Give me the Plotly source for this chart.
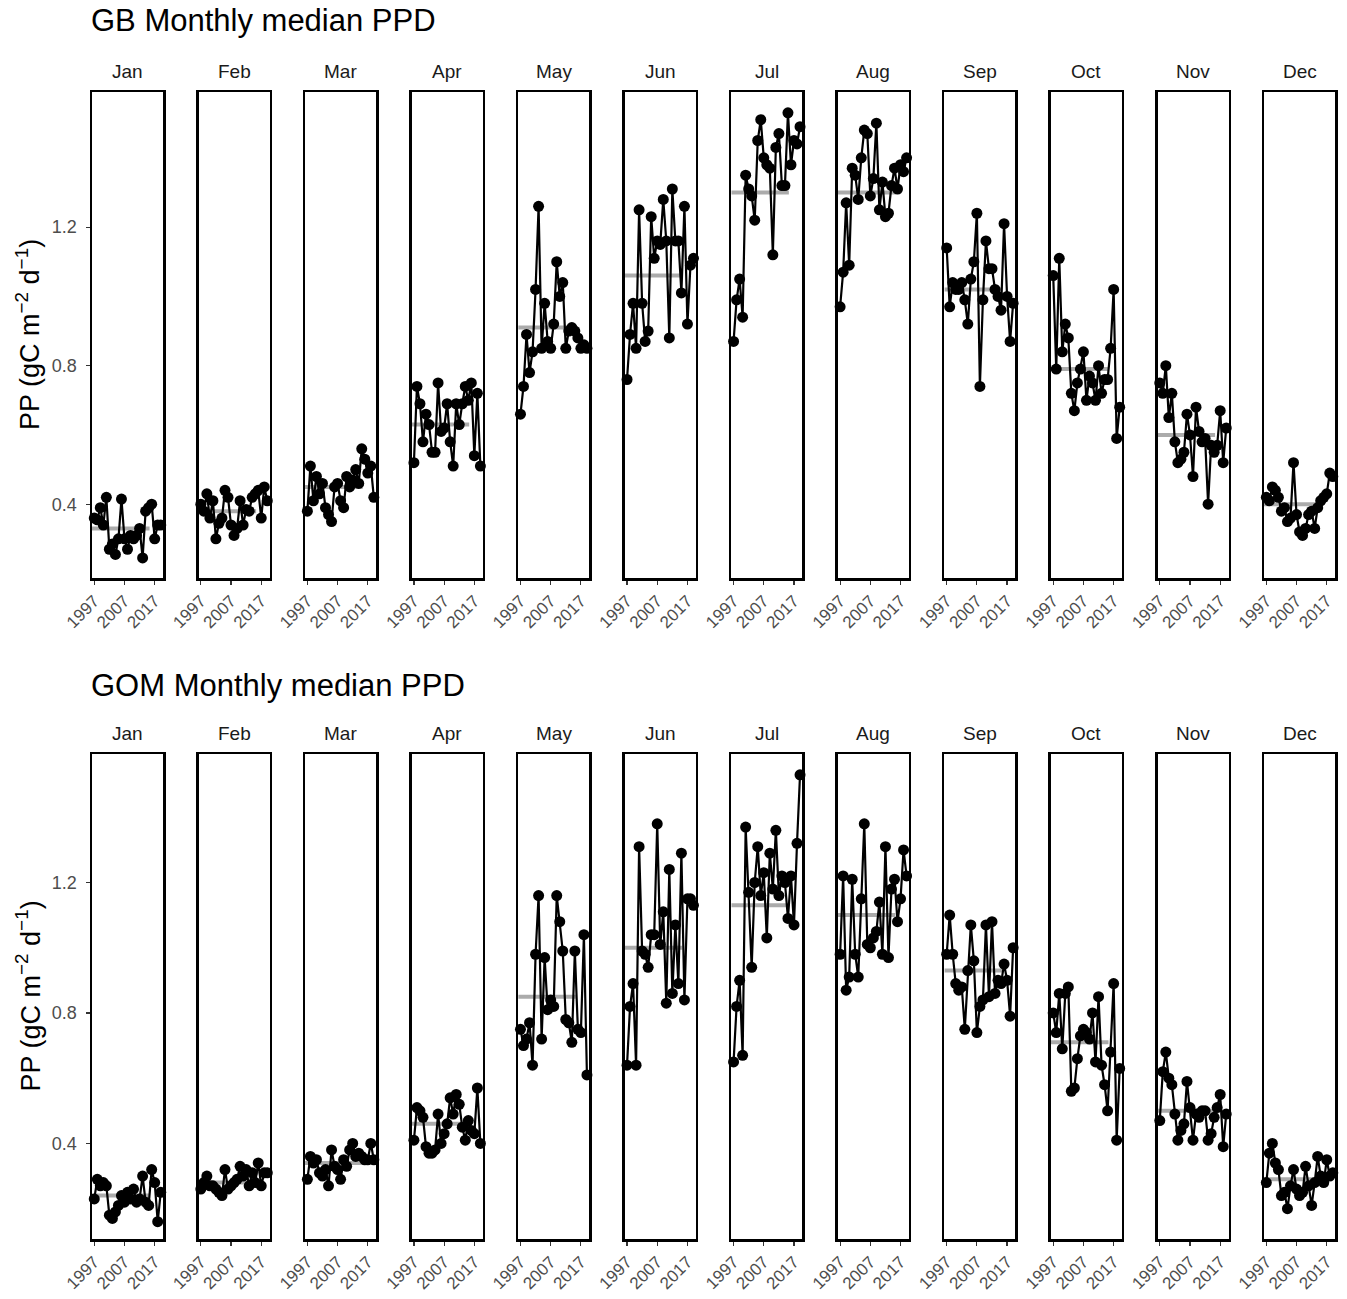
import plotly.graph_objects as go

# ---------------- data ----------------
years = list(range(1997, 2020))
months = ["Jan", "Feb", "Mar", "Apr", "May", "Jun", "Jul", "Aug", "Sep", "Oct", "Nov", "Dec"]
x_ticks = [1997, 2007, 2017]
y_ticks = [0.4, 0.8, 1.2]
y_tick_labels = ["0.4", "0.8", "1.2"]

# GB (Georges Bank) monthly median PPD
gb_jan = [0.36, 0.355, 0.39, 0.34, 0.42, 0.27, 0.285, 0.255, 0.30, 0.415, 0.30, 0.27, 0.31, 0.30, 0.31, 0.33, 0.245, 0.38, 0.39, 0.40, 0.30, 0.34, 0.34]
gb_feb = [0.40, 0.38, 0.43, 0.36, 0.41, 0.30, 0.345, 0.36, 0.44, 0.42, 0.34, 0.31, 0.33, 0.41, 0.34, 0.385, 0.38, 0.42, 0.43, 0.44, 0.36, 0.45, 0.41]
gb_mar = [0.38, 0.51, 0.41, 0.48, 0.43, 0.46, 0.39, 0.37, 0.35, 0.45, 0.46, 0.41, 0.39, 0.48, 0.45, 0.47, 0.50, 0.46, 0.56, 0.53, 0.49, 0.51, 0.42]
gb_apr = [0.52, 0.74, 0.69, 0.58, 0.66, 0.63, 0.55, 0.55, 0.75, 0.61, 0.62, 0.69, 0.58, 0.51, 0.69, 0.63, 0.69, 0.74, 0.70, 0.75, 0.54, 0.72, 0.51]
gb_may = [0.66, 0.74, 0.89, 0.78, 0.84, 1.02, 1.26, 0.85, 0.98, 0.87, 0.85, 0.92, 1.10, 1.00, 1.04, 0.85, 0.90, 0.91, 0.90, 0.88, 0.85, 0.86, 0.85]
gb_jun = [0.76, 0.89, 0.98, 0.85, 1.25, 0.98, 0.87, 0.90, 1.23, 1.11, 1.16, 1.15, 1.28, 1.16, 0.88, 1.31, 1.16, 1.16, 1.01, 1.26, 0.92, 1.09, 1.11]
gb_jul = [0.87, 0.99, 1.05, 0.94, 1.35, 1.31, 1.29, 1.22, 1.45, 1.51, 1.40, 1.38, 1.37, 1.12, 1.43, 1.47, 1.32, 1.32, 1.53, 1.38, 1.45, 1.44, 1.49]
gb_aug = [0.97, 1.07, 1.27, 1.09, 1.37, 1.35, 1.28, 1.40, 1.48, 1.47, 1.29, 1.34, 1.50, 1.25, 1.33, 1.23, 1.24, 1.32, 1.37, 1.31, 1.38, 1.36, 1.40]
gb_sep = [1.14, 0.97, 1.04, 1.02, 1.02, 1.04, 0.99, 0.92, 1.05, 1.10, 1.24, 0.74, 0.99, 1.16, 1.08, 1.08, 1.02, 1.00, 0.96, 1.21, 1.00, 0.87, 0.98]
gb_oct = [1.06, 0.79, 1.11, 0.84, 0.92, 0.88, 0.72, 0.67, 0.75, 0.79, 0.84, 0.70, 0.77, 0.75, 0.70, 0.80, 0.72, 0.76, 0.76, 0.85, 1.02, 0.59, 0.68]
gb_nov = [0.75, 0.72, 0.80, 0.65, 0.72, 0.58, 0.52, 0.53, 0.55, 0.66, 0.60, 0.48, 0.68, 0.61, 0.58, 0.59, 0.40, 0.57, 0.55, 0.57, 0.67, 0.52, 0.62]
gb_dec = [0.42, 0.41, 0.45, 0.44, 0.42, 0.38, 0.39, 0.35, 0.36, 0.52, 0.37, 0.32, 0.31, 0.33, 0.37, 0.38, 0.33, 0.39, 0.41, 0.42, 0.43, 0.49, 0.48]
gb_clim = [0.33, 0.38, 0.45, 0.63, 0.91, 1.06, 1.30, 1.30, 1.02, 0.79, 0.60, 0.40]

# GOM (Gulf of Maine) monthly median PPD
gom_jan = [0.23, 0.29, 0.27, 0.28, 0.27, 0.18, 0.17, 0.19, 0.21, 0.24, 0.22, 0.25, 0.23, 0.26, 0.22, 0.23, 0.30, 0.22, 0.21, 0.32, 0.28, 0.16, 0.25]
gom_feb = [0.26, 0.28, 0.30, 0.27, 0.27, 0.26, 0.25, 0.24, 0.32, 0.26, 0.27, 0.28, 0.29, 0.33, 0.30, 0.32, 0.27, 0.31, 0.28, 0.34, 0.27, 0.31, 0.31]
gom_mar = [0.29, 0.36, 0.34, 0.35, 0.31, 0.30, 0.32, 0.27, 0.38, 0.33, 0.32, 0.29, 0.35, 0.33, 0.38, 0.40, 0.36, 0.37, 0.36, 0.35, 0.35, 0.40, 0.35]
gom_apr = [0.41, 0.51, 0.50, 0.48, 0.39, 0.37, 0.37, 0.38, 0.49, 0.40, 0.43, 0.46, 0.54, 0.49, 0.55, 0.52, 0.45, 0.41, 0.47, 0.44, 0.43, 0.57, 0.40]
gom_may = [0.75, 0.70, 0.72, 0.77, 0.64, 0.98, 1.16, 0.72, 0.97, 0.81, 0.84, 0.82, 1.16, 1.08, 0.99, 0.78, 0.77, 0.71, 0.99, 0.75, 0.74, 1.04, 0.61]
gom_jun = [0.64, 0.82, 0.89, 0.64, 1.31, 0.99, 0.98, 0.94, 1.04, 1.04, 1.38, 1.01, 1.11, 0.83, 1.24, 0.86, 1.07, 0.89, 1.29, 0.84, 1.15, 1.15, 1.13]
gom_jul = [0.65, 0.82, 0.90, 0.67, 1.37, 1.17, 0.94, 1.20, 1.31, 1.16, 1.23, 1.03, 1.29, 1.18, 1.36, 1.16, 1.22, 1.20, 1.09, 1.22, 1.07, 1.32, 1.53]
gom_aug = [0.98, 1.22, 0.87, 0.91, 1.21, 0.98, 0.91, 1.15, 1.38, 1.01, 1.00, 1.03, 1.05, 1.14, 0.98, 1.31, 0.97, 1.18, 1.21, 1.08, 1.15, 1.30, 1.22]
gom_sep = [0.98, 1.10, 0.98, 0.89, 0.87, 0.88, 0.75, 0.93, 1.07, 0.96, 0.74, 0.82, 0.84, 1.07, 0.85, 1.08, 0.86, 0.90, 0.89, 0.95, 0.90, 0.79, 1.00]
gom_oct = [0.80, 0.74, 0.86, 0.69, 0.86, 0.88, 0.56, 0.57, 0.66, 0.73, 0.75, 0.74, 0.72, 0.80, 0.65, 0.85, 0.64, 0.58, 0.50, 0.68, 0.89, 0.41, 0.63]
gom_nov = [0.47, 0.62, 0.68, 0.60, 0.58, 0.49, 0.41, 0.44, 0.46, 0.59, 0.51, 0.41, 0.49, 0.48, 0.50, 0.50, 0.41, 0.43, 0.48, 0.51, 0.55, 0.39, 0.49]
gom_dec = [0.28, 0.37, 0.40, 0.34, 0.32, 0.24, 0.25, 0.20, 0.27, 0.32, 0.26, 0.24, 0.25, 0.33, 0.27, 0.21, 0.28, 0.36, 0.30, 0.28, 0.35, 0.30, 0.31]
gom_clim = [0.24, 0.28, 0.34, 0.46, 0.85, 1.00, 1.13, 1.10, 0.93, 0.71, 0.50, 0.29]

clim_years = [1996.25, 2015.3]

# ---------------- layout helpers ----------------
W, H = 1347, 1299
FONT = "Liberation Sans, Arial, Helvetica, sans-serif"


def px_x(px):
    return px / W


def px_y(py):
    return 1 - py / H


rows = [
    dict(title="GB Monthly median PPD", series=[gb_jan, gb_feb, gb_mar, gb_apr, gb_may, gb_jun,
                                                 gb_jul, gb_aug, gb_sep, gb_oct, gb_nov, gb_dec],
         clim=gb_clim, top=92, bottom=578, yrange=[0.187, 1.59], title_y=21, strip_y=71),
    dict(title="GOM Monthly median PPD", series=[gom_jan, gom_feb, gom_mar, gom_apr, gom_may, gom_jun,
                                                  gom_jul, gom_aug, gom_sep, gom_oct, gom_nov, gom_dec],
         clim=gom_clim, top=754, bottom=1239, yrange=[0.107, 1.594], title_y=685, strip_y=734),
]

panel_left0 = 92.0
panel_step = 106.55
panel_w = 71.0

fig = go.Figure()
annotations = []
layout_axes = {}

n = 0
for r, row in enumerate(rows):
    ydom = [px_y(row["bottom"]), px_y(row["top"])]
    for i, m in enumerate(months):
        n += 1
        xa = "x" if n == 1 else f"x{n}"
        ya = "y" if n == 1 else f"y{n}"
        xkey = "xaxis" if n == 1 else f"xaxis{n}"
        ykey = "yaxis" if n == 1 else f"yaxis{n}"
        left = panel_left0 + panel_step * i
        xdom = [px_x(left), px_x(left + panel_w)]

        # grey reference line
        fig.add_trace(go.Scatter(
            x=clim_years, y=[row["clim"][i]] * 2, mode="lines",
            line=dict(color="#ababab", width=4), xaxis=xa, yaxis=ya,
            showlegend=False, hoverinfo="skip"))
        # data series
        fig.add_trace(go.Scatter(
            x=years, y=row["series"][i], mode="lines+markers",
            line=dict(color="black", width=2.2),
            marker=dict(color="black", size=11),
            xaxis=xa, yaxis=ya, showlegend=False, cliponaxis=False))

        layout_axes[xkey] = dict(
            domain=xdom, anchor=ya, range=[1996.25, 2019.75], automargin=False,
            tickmode="array", tickvals=x_ticks, ticktext=[str(t) for t in x_ticks],
            tickangle=-45, ticks="outside", ticklen=4, tickwidth=1.2, tickcolor="#333333",
            tickfont=dict(family=FONT, size=17, color="#4d4d4d"),
            showgrid=False, zeroline=False,
            showline=True, linecolor="black", linewidth=2.5, mirror=True,
            fixedrange=True)
        layout_axes[ykey] = dict(
            domain=ydom, anchor=xa, range=row["yrange"], automargin=False,
            tickmode="array", tickvals=y_ticks, ticktext=y_tick_labels,
            ticks="outside" if i == 0 else "", ticklen=4, tickwidth=1.2, tickcolor="#333333",
            showticklabels=(i == 0), ticklabelstandoff=5,
            tickfont=dict(family=FONT, size=18, color="#4d4d4d"),
            showgrid=False, zeroline=False,
            showline=True, linecolor="black", linewidth=2.5, mirror=True,
            fixedrange=True)

        annotations.append(dict(
            text=m, x=px_x(left + panel_w / 2), y=px_y(row["strip_y"]),
            xref="paper", yref="paper", xanchor="center", yanchor="middle",
            showarrow=False, font=dict(family=FONT, size=19, color="#1a1a1a")))

    annotations.append(dict(
        text=row["title"], x=px_x(89), y=px_y(row["title_y"]),
        xref="paper", yref="paper", xanchor="left", yanchor="middle",
        showarrow=False, font=dict(family=FONT, size=31, color="black")))
    annotations.append(dict(
        text="PP (gC m<sup>\u22122</sup> d<sup>\u22121</sup>)",
        x=px_x(28), y=px_y((row["top"] + row["bottom"]) / 2),
        xref="paper", yref="paper", xanchor="center", yanchor="middle",
        textangle=-90, showarrow=False,
        font=dict(family=FONT, size=27, color="black")))

fig.update_layout(
    template="none",
    width=W, height=H,
    margin=dict(l=0, r=0, t=0, b=0, autoexpand=False),
    paper_bgcolor="white", plot_bgcolor="white",
    showlegend=False,
    annotations=annotations,
    **layout_axes,
)

fig.write_html("out.html",
               config={"displayModeBar": False, "staticPlot": True},
               post_script="document.body.style.margin='0';document.body.style.overflow='hidden';")
